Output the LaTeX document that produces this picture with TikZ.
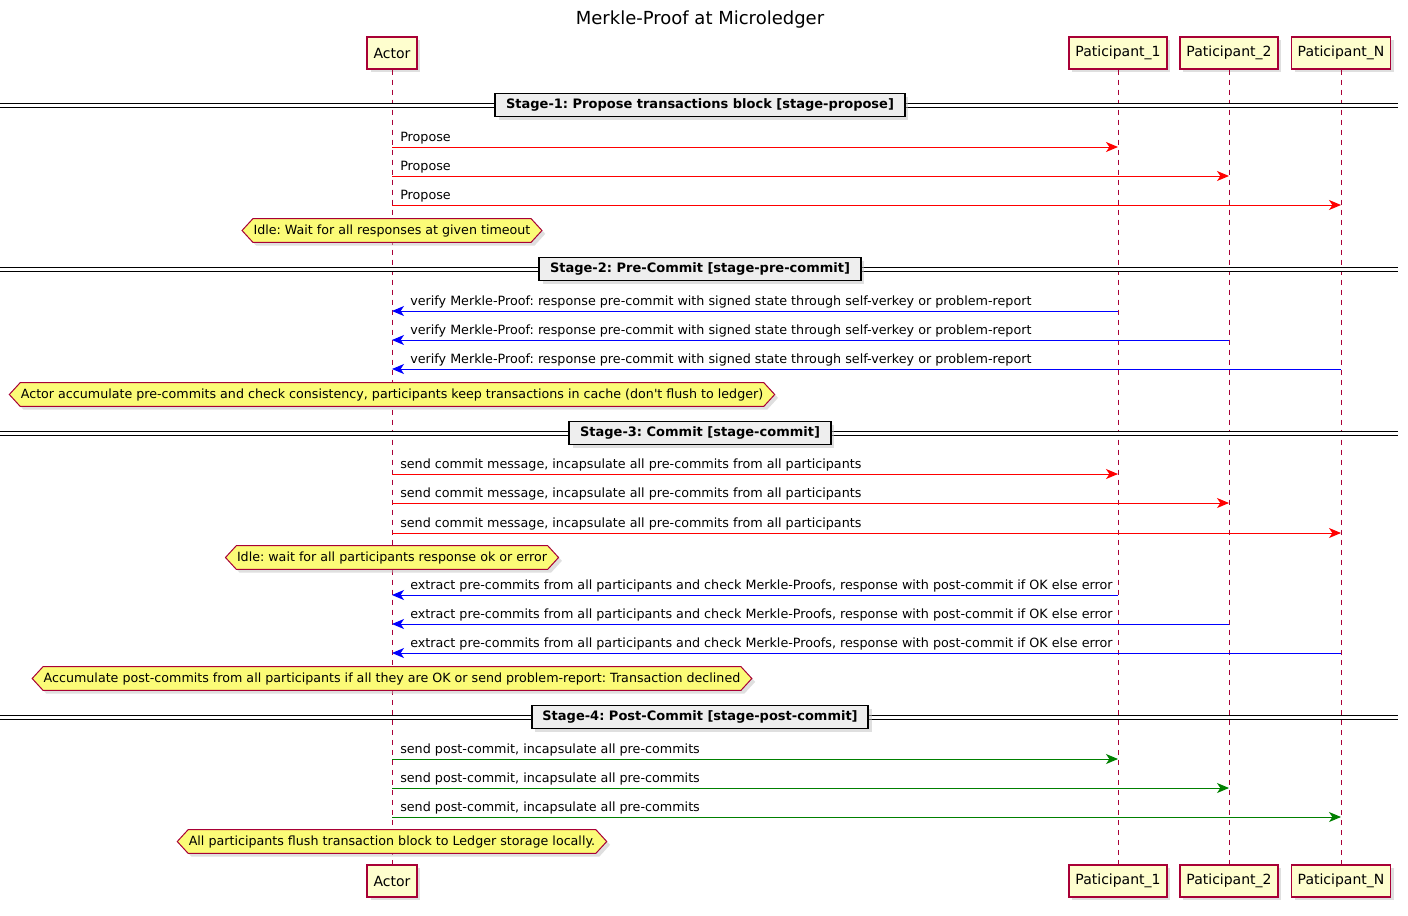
\documentclass[tikz,border=0pt]{standalone}
\usepackage{fontspec}
\setmainfont{DejaVu Sans}
\frenchspacing
\usetikzlibrary{arrows.meta}
\usetikzlibrary{shapes.symbols}
\usetikzlibrary{shadows}

\definecolor{umlred}{HTML}{A80036}
\definecolor{umlbox}{HTML}{FEFECE}
\definecolor{umlnote}{HTML}{FBFB77}
\definecolor{umlgray}{HTML}{EEEEEE}
\definecolor{umlgreen}{HTML}{008000}

\tikzset{
  party/.style={draw=umlred, line width=1.1pt, fill=umlbox, minimum height=24pt,
    inner xsep=4.8pt, font=\fontsize{10.5}{12}\selectfont,
    drop shadow={shadow xshift=2.5pt, shadow yshift=-2.5pt, fill=black!25}},
  lifeline/.style={draw=umlred, line width=0.75pt, dash pattern=on 3.75pt off 3.75pt},
  msg/.style={draw=#1, line width=0.75pt,
    -{Stealth[length=9pt, width=7.5pt, inset=2.5pt, fill=#1]}},
  lbl/.style={anchor=base west, inner sep=0pt, font=\fontsize{9.55}{11}\selectfont},
  hnote/.style={signal, signal to=west and east, signal pointer angle=95,
    draw=umlred, line width=0.75pt, fill=umlnote, minimum height=17.25pt,
    inner xsep=0.5pt, inner ysep=4.3pt, font=\fontsize{9.5}{11}\selectfont,
    drop shadow={shadow xshift=2.5pt, shadow yshift=-2.5pt, fill=black!25}},
  sep/.style={draw=black, line width=0.75pt, double, double distance=2.25pt},
  stage/.style={draw=black, line width=1.4pt, fill=umlgray, minimum height=17.25pt,
    inner xsep=8pt, font=\bfseries\fontsize{9.75}{11}\selectfont,
    drop shadow={shadow xshift=2.5pt, shadow yshift=-2.5pt, fill=black!25}}
}

\begin{document}
\begin{tikzpicture}[x=0.75pt, y=-0.75pt]
  \useasboundingbox (0,0) rectangle (1408,915);
  \node[font=\fontsize{13.5}{16}\selectfont] (title) at (700,20) {Merkle-Proof at Microledger};

  \node[party] (Actor) at (392,53) {Actor};
  \node[party] (P1) at (1118,53) {Paticipant\_1};
  \node[party] (P2) at (1229,53) {Paticipant\_2};
  \node[party] (PN) at (1341,53) {Paticipant\_N};
  \node[party] (ActorB) at (392,881) {Actor};
  \node[party] (P1B) at (1118,881) {Paticipant\_1};
  \node[party] (P2B) at (1229,881) {Paticipant\_2};
  \node[party] (PNB) at (1341,881) {Paticipant\_N};

  \draw[lifeline] (Actor) -- (ActorB);
  \draw[lifeline] (P1) -- (P1B);
  \draw[lifeline] (P2) -- (P2B);
  \draw[lifeline] (PN) -- (PNB);

  \draw[sep] (0,105.5) -- (1398,105.5);
  \node[stage] (S1) at (700,105) {Stage-1: Propose transactions block [stage-propose]};
  \draw[sep] (0,269.5) -- (1398,269.5);
  \node[stage] (S2) at (700,269) {Stage-2: Pre-Commit [stage-pre-commit]};
  \draw[sep] (0,433.5) -- (1398,433.5);
  \node[stage] (S3) at (700,433) {Stage-3: Commit [stage-commit]};
  \draw[sep] (0,717.5) -- (1398,717.5);
  \node[stage] (S4) at (700,717) {Stage-4: Post-Commit [stage-post-commit]};

  \foreach \t/\y in {P1/147, P2/176, PN/205} {
    \draw[msg=red] (Actor |- 0,\y) -- (\t |- 0,\y);
    \node[lbl] (prop\t) at (400,\y-5.5) {Propose};
  }
  \node[hnote] (idle1) at (392,230.5) {Idle: Wait for all responses at given timeout};

  \foreach \t/\y in {P1/311, P2/340, PN/369} {
    \draw[msg=blue] (\t |- 0,\y) -- (Actor |- 0,\y);
    \node[lbl] (ver\t) at (410,\y-5.5) {verify Merkle-Proof: response pre-commit with signed state through self-verkey or problem-report};
  }
  \node[hnote] (acc1) at (392,394.5) {Actor accumulate pre-commits and check consistency, participants keep transactions in cache (don\textquotesingle t flush to ledger)};

  \foreach \t/\y in {P1/474, P2/503, PN/533} {
    \draw[msg=red] (Actor |- 0,\y) -- (\t |- 0,\y);
    \node[lbl] (com\t) at (400,\y-5.5) {send commit message, incapsulate all pre-commits from all participants};
  }
  \node[hnote] (idle2) at (392,557.5) {Idle: wait for all participants response ok or error};

  \foreach \t/\y in {P1/595, P2/624, PN/653} {
    \draw[msg=blue] (\t |- 0,\y) -- (Actor |- 0,\y);
    \node[lbl] (ext\t) at (410,\y-5.5) {extract pre-commits from all participants and check Merkle-Proofs, response with post-commit if OK else error};
  }
  \node[hnote] (acc2) at (392,678.5) {Accumulate post-commits from all participants if all they are OK or send problem-report: Transaction declined};

  \foreach \t/\y in {P1/759, P2/788, PN/817} {
    \draw[msg=umlgreen] (Actor |- 0,\y) -- (\t |- 0,\y);
    \node[lbl] (post\t) at (400,\y-5.5) {send post-commit, incapsulate all pre-commits};
  }
  \node[hnote] (flush) at (392,841.5) {All participants flush transaction block to Ledger storage locally.};
\end{tikzpicture}
\end{document}
